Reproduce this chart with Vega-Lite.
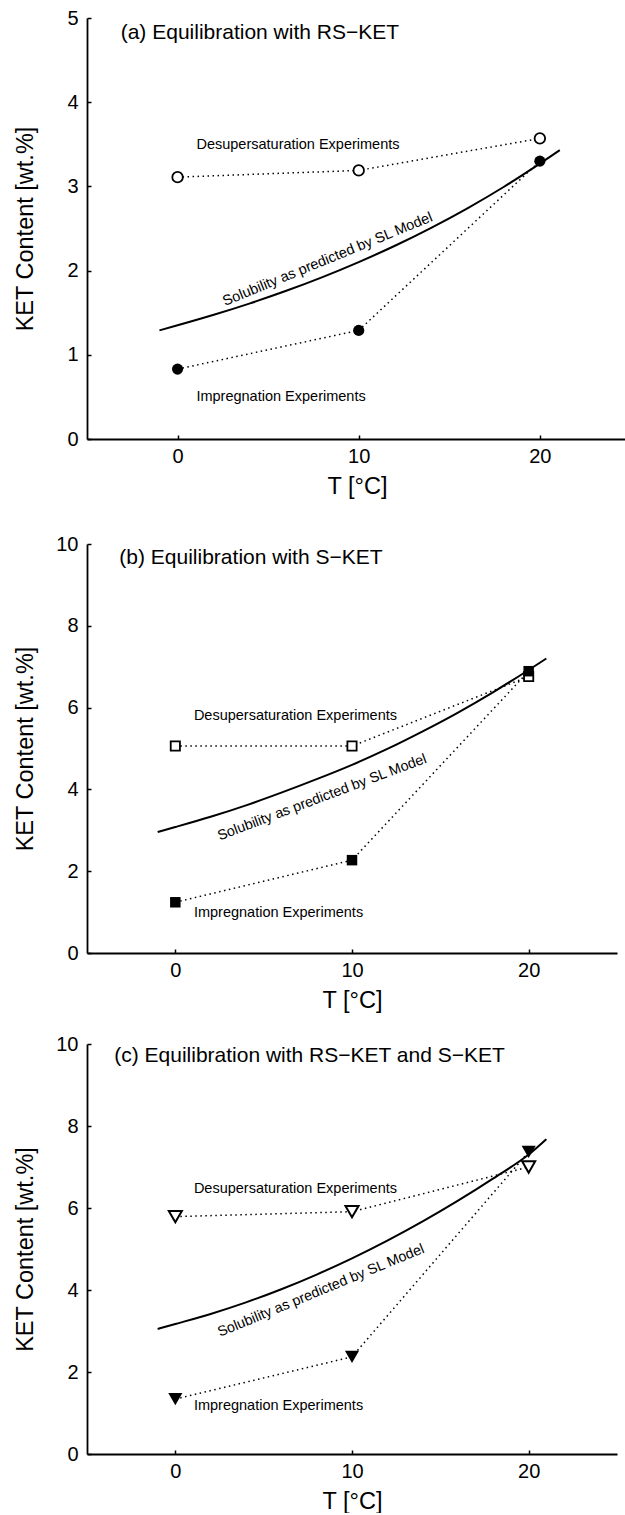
{
  "$schema": "https://vega.github.io/schema/vega-lite/v6.json",
  "padding": {"top": 8, "left": 13, "right": 0, "bottom": 0},
  "background": "white",
  "config": {
    "view": {"stroke": null},
    "font": "Liberation Sans",
    "axis": {
      "grid": false,
      "domainColor": "black",
      "domainWidth": 1.8,
      "tickColor": "black",
      "tickSize": -4,
      "tickWidth": 1.5,
      "labelFont": "Liberation Sans",
      "labelFontSize": 20,
      "labelColor": "black",
      "labelPadding": 13,
      "labelFlush": false,
      "titleFont": "Liberation Sans",
      "titleFontSize": 23.5,
      "titleFontWeight": "normal",
      "titleColor": "black"
    },
    "axisX": {"labelPadding": 11}
  },
  "datasets": {
    "curves": [
      {"panel": "a", "T": -1, "KET": 1.29}, {"panel": "a", "T": 0, "KET": 1.35}, {"panel": "a", "T": 2, "KET": 1.475}, {"panel": "a", "T": 4, "KET": 1.611}, {"panel": "a", "T": 6, "KET": 1.76}, {"panel": "a", "T": 8, "KET": 1.923}, {"panel": "a", "T": 10, "KET": 2.101}, {"panel": "a", "T": 12, "KET": 2.295}, {"panel": "a", "T": 14, "KET": 2.508}, {"panel": "a", "T": 16, "KET": 2.74}, {"panel": "a", "T": 18, "KET": 2.993}, {"panel": "a", "T": 20, "KET": 3.27}, {"panel": "a", "T": 21.1, "KET": 3.43},
      {"panel": "b", "T": -1, "KET": 2.96}, {"panel": "b", "T": 0, "KET": 3.08}, {"panel": "b", "T": 2, "KET": 3.33}, {"panel": "b", "T": 4, "KET": 3.61}, {"panel": "b", "T": 6, "KET": 3.92}, {"panel": "b", "T": 8, "KET": 4.25}, {"panel": "b", "T": 10, "KET": 4.6}, {"panel": "b", "T": 12, "KET": 4.99}, {"panel": "b", "T": 14, "KET": 5.42}, {"panel": "b", "T": 16, "KET": 5.88}, {"panel": "b", "T": 18, "KET": 6.38}, {"panel": "b", "T": 20, "KET": 6.92}, {"panel": "b", "T": 21, "KET": 7.2},
      {"panel": "c", "T": -1, "KET": 3.05}, {"panel": "c", "T": 0, "KET": 3.17}, {"panel": "c", "T": 2, "KET": 3.416}, {"panel": "c", "T": 4, "KET": 3.699}, {"panel": "c", "T": 6, "KET": 4.019}, {"panel": "c", "T": 8, "KET": 4.377}, {"panel": "c", "T": 10, "KET": 4.772}, {"panel": "c", "T": 12, "KET": 5.204}, {"panel": "c", "T": 14, "KET": 5.673}, {"panel": "c", "T": 16, "KET": 6.179}, {"panel": "c", "T": 18, "KET": 6.723}, {"panel": "c", "T": 20, "KET": 7.304}, {"panel": "c", "T": 21, "KET": 7.68}
    ],
    "points": [
      {"panel": "a", "series": "Desupersaturation", "T": 0, "KET": 3.11}, {"panel": "a", "series": "Desupersaturation", "T": 10, "KET": 3.19}, {"panel": "a", "series": "Desupersaturation", "T": 20, "KET": 3.57},
      {"panel": "a", "series": "Impregnation", "T": 0, "KET": 0.83}, {"panel": "a", "series": "Impregnation", "T": 10, "KET": 1.29}, {"panel": "a", "series": "Impregnation", "T": 20, "KET": 3.3},
      {"panel": "b", "series": "Desupersaturation", "T": 0, "KET": 5.06}, {"panel": "b", "series": "Desupersaturation", "T": 10, "KET": 5.06}, {"panel": "b", "series": "Desupersaturation", "T": 20, "KET": 6.76},
      {"panel": "b", "series": "Impregnation", "T": 0, "KET": 1.24}, {"panel": "b", "series": "Impregnation", "T": 10, "KET": 2.27}, {"panel": "b", "series": "Impregnation", "T": 20, "KET": 6.89},
      {"panel": "c", "series": "Desupersaturation", "T": 0, "KET": 5.79}, {"panel": "c", "series": "Desupersaturation", "T": 10, "KET": 5.91}, {"panel": "c", "series": "Desupersaturation", "T": 20, "KET": 7.0},
      {"panel": "c", "series": "Impregnation", "T": 0, "KET": 1.34}, {"panel": "c", "series": "Impregnation", "T": 10, "KET": 2.37}, {"panel": "c", "series": "Impregnation", "T": 20, "KET": 7.37}
    ],
    "labels": [
      {"panel": "a", "kind": "title", "label": "(a) Equilibration with RS−KET", "T": -3.14, "KET": 4.82},
      {"panel": "a", "kind": "exp", "label": "Desupersaturation Experiments", "T": 1.04, "KET": 3.49},
      {"panel": "a", "kind": "exp", "label": "Impregnation Experiments", "T": 1.04, "KET": 0.5},
      {"panel": "a", "kind": "model", "label": "Solubility as predicted by SL Model", "T": 8.29, "KET": 2.13},
      {"panel": "b", "kind": "title", "label": "(b) Equilibration with S−KET", "T": -3.17, "KET": 9.65},
      {"panel": "b", "kind": "exp", "label": "Desupersaturation Experiments", "T": 1.05, "KET": 5.79},
      {"panel": "b", "kind": "exp", "label": "Impregnation Experiments", "T": 1.05, "KET": 0.985},
      {"panel": "b", "kind": "model", "label": "Solubility as predicted by SL Model", "T": 8.31, "KET": 3.8},
      {"panel": "c", "kind": "title", "label": "(c) Equilibration with RS−KET and S−KET", "T": -3.46, "KET": 9.71},
      {"panel": "c", "kind": "exp", "label": "Desupersaturation Experiments", "T": 1.05, "KET": 6.46},
      {"panel": "c", "kind": "exp", "label": "Impregnation Experiments", "T": 1.05, "KET": 1.18},
      {"panel": "c", "kind": "model", "label": "Solubility as predicted by SL Model", "T": 8.25, "KET": 3.98}
    ]
  },
  "spacing": 36,
  "vconcat": [
    {
      "width": 538,
      "height": 421,
      "encoding": {
        "x": {"field": "T", "type": "quantitative", "scale": {"domain": [-5, 24.7], "nice": false, "zero": false},
              "axis": {"values": [0, 10, 20], "title": "T [°C]", "titleX": 270, "titleY": 47, "titleBaseline": "middle"}},
        "y": {"field": "KET", "type": "quantitative", "scale": {"domain": [0, 5], "nice": false},
              "axis": {"values": [0, 1, 2, 3, 4, 5], "title": "KET Content [wt.%]", "titleX": -62, "titleY": 210.5, "titleBaseline": "middle", "titleAngle": 270}}
      },
      "layer": [
        {"data": {"name": "curves"}, "transform": [{"filter": "datum.panel === 'a'"}],
         "mark": {"type": "line", "color": "black", "strokeWidth": 2, "interpolate": "monotone"}},
        {"data": {"name": "points"}, "transform": [{"filter": "datum.panel === 'a'"}],
         "mark": {"type": "line", "color": "black", "strokeWidth": 1.5, "strokeDash": [1.5, 3.5]},
         "encoding": {"detail": {"field": "series"}}},
        {"data": {"name": "points"}, "transform": [{"filter": "datum.panel === 'a' && datum.series === 'Desupersaturation'"}],
         "mark": {"type": "point", "shape": "circle", "filled": true, "fill": "white", "stroke": "black", "strokeWidth": 1.8, "size": 110, "opacity": 1}},
        {"data": {"name": "points"}, "transform": [{"filter": "datum.panel === 'a' && datum.series === 'Impregnation'"}],
         "mark": {"type": "point", "shape": "circle", "filled": true, "color": "black", "size": 125, "opacity": 1}},
        {"data": {"name": "labels"}, "transform": [{"filter": "datum.panel === 'a' && datum.kind === 'title'"}],
         "mark": {"type": "text", "align": "left", "baseline": "middle", "fontSize": 21, "color": "black"},
         "encoding": {"text": {"field": "label"}}},
        {"data": {"name": "labels"}, "transform": [{"filter": "datum.panel === 'a' && datum.kind === 'exp'"}],
         "mark": {"type": "text", "align": "left", "baseline": "middle", "fontSize": 14.5, "color": "black"},
         "encoding": {"text": {"field": "label"}}},
        {"data": {"name": "labels"}, "transform": [{"filter": "datum.panel === 'a' && datum.kind === 'model'"}],
         "mark": {"type": "text", "align": "center", "baseline": "middle", "fontSize": 14.5, "angle": 337.7, "color": "black"},
         "encoding": {"text": {"field": "label"}}}
      ]
    },
    {
      "spacing": 22,
      "vconcat": [
        {
          "width": 530,
          "height": 409,
          "encoding": {
            "x": {"field": "T", "type": "quantitative", "scale": {"domain": [-5, 25], "nice": false, "zero": false},
                  "axis": {"values": [0, 10, 20], "title": "T [°C]", "titleX": 265, "titleY": 47, "titleBaseline": "middle"}},
            "y": {"field": "KET", "type": "quantitative", "scale": {"domain": [0, 10], "nice": false},
                  "axis": {"values": [0, 2, 4, 6, 8, 10], "title": "KET Content [wt.%]", "titleX": -62, "titleY": 204.5, "titleBaseline": "middle", "titleAngle": 270}}
          },
          "layer": [
            {"data": {"name": "curves"}, "transform": [{"filter": "datum.panel === 'b'"}],
             "mark": {"type": "line", "color": "black", "strokeWidth": 2, "interpolate": "monotone"}},
            {"data": {"name": "points"}, "transform": [{"filter": "datum.panel === 'b'"}],
             "mark": {"type": "line", "color": "black", "strokeWidth": 1.5, "strokeDash": [1.5, 3.5]},
             "encoding": {"detail": {"field": "series"}}},
            {"data": {"name": "points"}, "transform": [{"filter": "datum.panel === 'b' && datum.series === 'Desupersaturation'"}],
             "mark": {"type": "point", "shape": "square", "filled": true, "fill": "white", "stroke": "black", "strokeWidth": 1.8, "size": 85, "opacity": 1}},
            {"data": {"name": "points"}, "transform": [{"filter": "datum.panel === 'b' && datum.series === 'Impregnation'"}],
             "mark": {"type": "point", "shape": "square", "filled": true, "color": "black", "size": 110, "opacity": 1}},
            {"data": {"name": "labels"}, "transform": [{"filter": "datum.panel === 'b' && datum.kind === 'title'"}],
             "mark": {"type": "text", "align": "left", "baseline": "middle", "fontSize": 21, "color": "black"},
             "encoding": {"text": {"field": "label"}}},
            {"data": {"name": "labels"}, "transform": [{"filter": "datum.panel === 'b' && datum.kind === 'exp'"}],
             "mark": {"type": "text", "align": "left", "baseline": "middle", "fontSize": 14.5, "color": "black"},
             "encoding": {"text": {"field": "label"}}},
            {"data": {"name": "labels"}, "transform": [{"filter": "datum.panel === 'b' && datum.kind === 'model'"}],
             "mark": {"type": "text", "align": "center", "baseline": "middle", "fontSize": 14.3, "angle": 339.4, "color": "black"},
             "encoding": {"text": {"field": "label"}}}
          ]
        },
        {
          "width": 530,
          "height": 410,
          "encoding": {
            "x": {"field": "T", "type": "quantitative", "scale": {"domain": [-5, 25], "nice": false, "zero": false},
                  "axis": {"values": [0, 10, 20], "title": "T [°C]", "titleX": 265, "titleY": 47, "titleBaseline": "middle"}},
            "y": {"field": "KET", "type": "quantitative", "scale": {"domain": [0, 10], "nice": false},
                  "axis": {"values": [0, 2, 4, 6, 8, 10], "title": "KET Content [wt.%]", "titleX": -62, "titleY": 205, "titleBaseline": "middle", "titleAngle": 270}}
          },
          "layer": [
            {"data": {"name": "curves"}, "transform": [{"filter": "datum.panel === 'c'"}],
             "mark": {"type": "line", "color": "black", "strokeWidth": 2, "interpolate": "monotone"}},
            {"data": {"name": "points"}, "transform": [{"filter": "datum.panel === 'c'"}],
             "mark": {"type": "line", "color": "black", "strokeWidth": 1.5, "strokeDash": [1.5, 3.5]},
             "encoding": {"detail": {"field": "series"}}},
            {"data": {"name": "points"}, "transform": [{"filter": "datum.panel === 'c' && datum.series === 'Desupersaturation'"}],
             "mark": {"type": "point", "shape": "triangle-down", "filled": true, "fill": "white", "stroke": "black", "strokeWidth": 2, "size": 170, "opacity": 1}},
            {"data": {"name": "points"}, "transform": [{"filter": "datum.panel === 'c' && datum.series === 'Impregnation'"}],
             "mark": {"type": "point", "shape": "triangle-down", "filled": true, "color": "black", "size": 200, "opacity": 1}},
            {"data": {"name": "labels"}, "transform": [{"filter": "datum.panel === 'c' && datum.kind === 'title'"}],
             "mark": {"type": "text", "align": "left", "baseline": "middle", "fontSize": 21, "color": "black"},
             "encoding": {"text": {"field": "label"}}},
            {"data": {"name": "labels"}, "transform": [{"filter": "datum.panel === 'c' && datum.kind === 'exp'"}],
             "mark": {"type": "text", "align": "left", "baseline": "middle", "fontSize": 14.5, "color": "black"},
             "encoding": {"text": {"field": "label"}}},
            {"data": {"name": "labels"}, "transform": [{"filter": "datum.panel === 'c' && datum.kind === 'model'"}],
             "mark": {"type": "text", "align": "center", "baseline": "middle", "fontSize": 14.3, "angle": 337.6, "color": "black"},
             "encoding": {"text": {"field": "label"}}}
          ]
        }
      ]
    }
  ]
}
